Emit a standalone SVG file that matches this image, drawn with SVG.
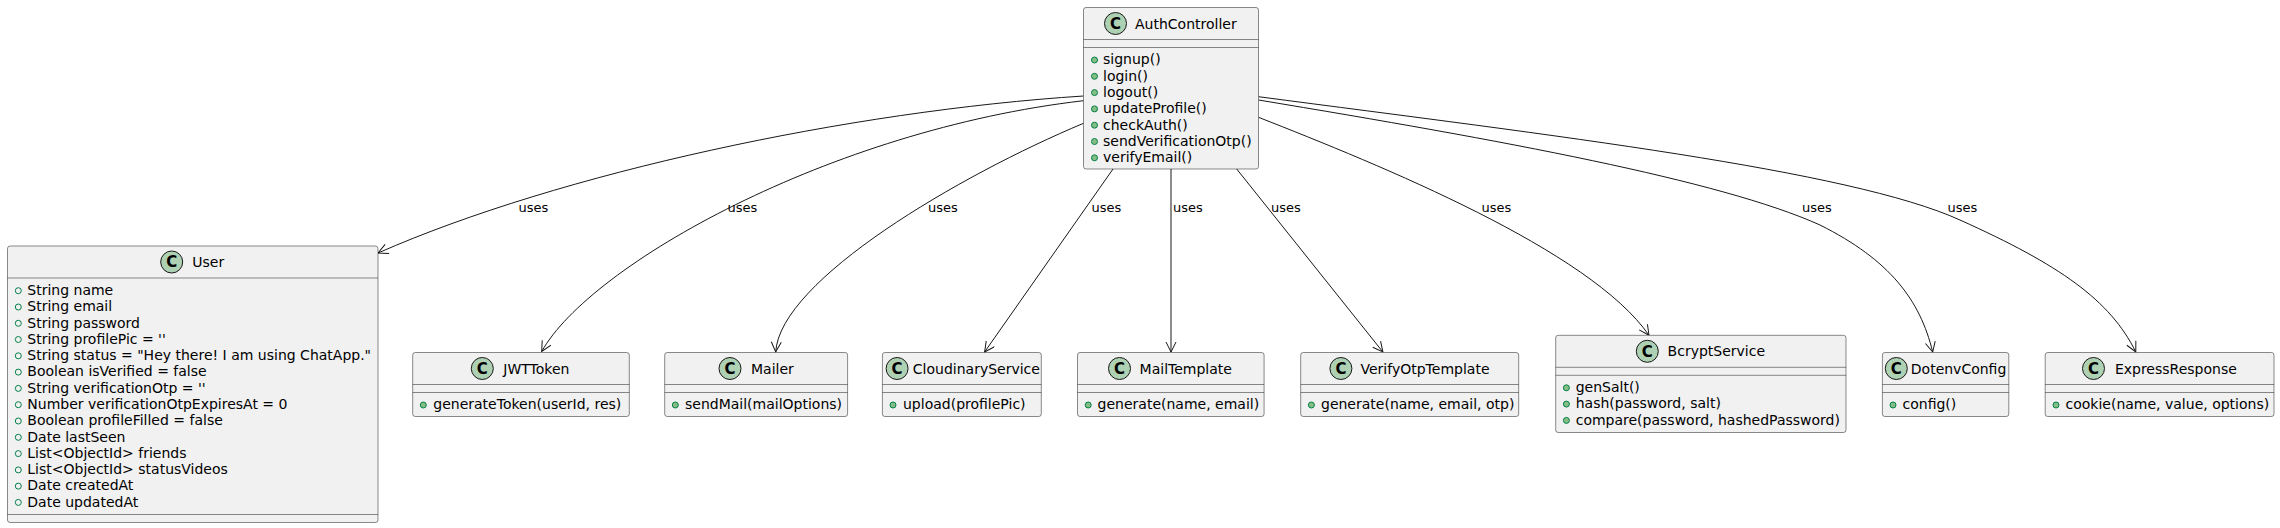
<svg xmlns="http://www.w3.org/2000/svg" width="2280" height="528" viewBox="0 0 2280 528">
<style>
.box{fill:#F1F1F1;stroke:#181818;stroke-width:0.5}
.sep{stroke:#181818;stroke-width:0.5}
.ci{fill:#ADD1B2;stroke:#181818;stroke-width:1}
.cl{font-family:"DejaVu Sans",sans-serif;font-size:15px;font-weight:bold;fill:#000;text-anchor:middle}
.nm{font-family:"DejaVu Sans",sans-serif;font-size:14px;fill:#000}
.mb{font-family:"DejaVu Sans",sans-serif;font-size:14px;fill:#000}
.md{fill:#84BE84;stroke:#038048;stroke-width:1}
.fd{fill:none;stroke:#038048;stroke-width:1}
.ed{fill:none;stroke:#181818;stroke-width:1}
.lb{font-family:"DejaVu Sans",sans-serif;font-size:13px;fill:#000}
</style>
<defs>
<marker id="arr" markerWidth="12" markerHeight="12" refX="10.5" refY="5.5" orient="auto" markerUnits="userSpaceOnUse">
<path d="M0.5,0.5 L10.5,5.5 L0.5,10.5" fill="none" stroke="#181818" stroke-width="1"/>
</marker>
</defs>

<g id="edges">
<path class="ed" marker-end="url(#arr)" d="M1083.5,96 C850,111 560,173 378,253"/>
<path class="ed" marker-end="url(#arr)" d="M1083.5,100.7 C830,130 590,265 541.7,351.5"/>
<path class="ed" marker-end="url(#arr)" d="M1083.5,123.3 C960,175 780,280 775.7,352"/>
<path class="ed" marker-end="url(#arr)" d="M1113,169 L984.6,352"/>
<path class="ed" marker-end="url(#arr)" d="M1171,169 L1171,352"/>
<path class="ed" marker-end="url(#arr)" d="M1236.7,169 L1382.9,352"/>
<path class="ed" marker-end="url(#arr)" d="M1258.5,117.3 C1380,165 1590,250 1649,335.3"/>
<path class="ed" marker-end="url(#arr)" d="M1258.5,100 C1500,140 1720,180 1820,225 C1890,260 1920,300 1932.7,352"/>
<path class="ed" marker-end="url(#arr)" d="M1258.5,96.7 C1550,135 1850,170 1960,220 C2060,265 2110,300 2135.8,352"/>
<text class="lb" x="518.4" y="211.5">uses</text>
<text class="lb" x="727.6" y="211.5">uses</text>
<text class="lb" x="928" y="211.5">uses</text>
<text class="lb" x="1091.5" y="211.5">uses</text>
<text class="lb" x="1173" y="211.5">uses</text>
<text class="lb" x="1271" y="211.5">uses</text>
<text class="lb" x="1481.4" y="211.5">uses</text>
<text class="lb" x="1802" y="211.5">uses</text>
<text class="lb" x="1947.5" y="211.5">uses</text>
</g>

<g id="AuthController">
<rect class="box" x="1083.5" y="7.5" width="175" height="161.5" rx="2.5"/>
<circle class="ci" cx="1115.5" cy="23.5" r="11"/>
<text class="cl" x="1115.5" y="28.8">C</text>
<text class="nm" x="1135" y="28.5">AuthController</text>
<line class="sep" x1="1083.5" y1="39.5" x2="1258.5" y2="39.5"/>
<line class="sep" x1="1083.5" y1="47.5" x2="1258.5" y2="47.5"/>
<circle class="md" cx="1094.5" cy="60" r="3"/><text class="mb" x="1103" y="64.3">signup()</text>
<circle class="md" cx="1094.5" cy="76.3" r="3"/><text class="mb" x="1103" y="80.6">login()</text>
<circle class="md" cx="1094.5" cy="92.6" r="3"/><text class="mb" x="1103" y="96.9">logout()</text>
<circle class="md" cx="1094.5" cy="108.9" r="3"/><text class="mb" x="1103" y="113.2">updateProfile()</text>
<circle class="md" cx="1094.5" cy="125.2" r="3"/><text class="mb" x="1103" y="129.5">checkAuth()</text>
<circle class="md" cx="1094.5" cy="141.5" r="3"/><text class="mb" x="1103" y="145.8">sendVerificationOtp()</text>
<circle class="md" cx="1094.5" cy="157.8" r="3"/><text class="mb" x="1103" y="162.1">verifyEmail()</text>
</g>

<g id="User">
<rect class="box" x="7.5" y="246" width="370.5" height="276.5" rx="2.5"/>
<circle class="ci" cx="171.7" cy="262" r="11"/>
<text class="cl" x="171.7" y="267.3">C</text>
<text class="nm" x="192.3" y="267">User</text>
<line class="sep" x1="7.5" y1="278" x2="378" y2="278"/>
<line class="sep" x1="7.5" y1="514.5" x2="378" y2="514.5"/>
<circle class="fd" cx="18.3" cy="290.7" r="3"/><text class="mb" x="27.3" y="295">String name</text>
<circle class="fd" cx="18.3" cy="307" r="3"/><text class="mb" x="27.3" y="311.3">String email</text>
<circle class="fd" cx="18.3" cy="323.3" r="3"/><text class="mb" x="27.3" y="327.6">String password</text>
<circle class="fd" cx="18.3" cy="339.5" r="3"/><text class="mb" x="27.3" y="343.8">String profilePic = ''</text>
<circle class="fd" cx="18.3" cy="355.8" r="3"/><text class="mb" x="27.3" y="360.1">String status = "Hey there! I am using ChatApp."</text>
<circle class="fd" cx="18.3" cy="372.1" r="3"/><text class="mb" x="27.3" y="376.4">Boolean isVerified = false</text>
<circle class="fd" cx="18.3" cy="388.4" r="3"/><text class="mb" x="27.3" y="392.7">String verificationOtp = ''</text>
<circle class="fd" cx="18.3" cy="404.7" r="3"/><text class="mb" x="27.3" y="409">Number verificationOtpExpiresAt = 0</text>
<circle class="fd" cx="18.3" cy="421" r="3"/><text class="mb" x="27.3" y="425.3">Boolean profileFilled = false</text>
<circle class="fd" cx="18.3" cy="437.3" r="3"/><text class="mb" x="27.3" y="441.6">Date lastSeen</text>
<circle class="fd" cx="18.3" cy="453.6" r="3"/><text class="mb" x="27.3" y="457.9">List&lt;ObjectId&gt; friends</text>
<circle class="fd" cx="18.3" cy="469.9" r="3"/><text class="mb" x="27.3" y="474.2">List&lt;ObjectId&gt; statusVideos</text>
<circle class="fd" cx="18.3" cy="486.1" r="3"/><text class="mb" x="27.3" y="490.4">Date createdAt</text>
<circle class="fd" cx="18.3" cy="502.4" r="3"/><text class="mb" x="27.3" y="506.7">Date updatedAt</text>
</g>

<g id="JWTToken">
<rect class="box" x="412.7" y="352.5" width="216.6" height="64" rx="2.5"/>
<circle class="ci" cx="482.3" cy="368.5" r="11"/>
<text class="cl" x="482.3" y="373.8">C</text>
<text class="nm" x="503.3" y="373.5">JWTToken</text>
<line class="sep" x1="412.7" y1="384.5" x2="629.3" y2="384.5"/>
<line class="sep" x1="412.7" y1="392.5" x2="629.3" y2="392.5"/>
<circle class="md" cx="423.3" cy="405" r="3"/><text class="mb" x="433.3" y="409.3">generateToken(userId, res)</text>
</g>

<g id="Mailer">
<rect class="box" x="664.7" y="352.5" width="182.9" height="64" rx="2.5"/>
<circle class="ci" cx="730" cy="368.5" r="11"/>
<text class="cl" x="730" y="373.8">C</text>
<text class="nm" x="751" y="373.5">Mailer</text>
<line class="sep" x1="664.7" y1="384.5" x2="847.6" y2="384.5"/>
<line class="sep" x1="664.7" y1="392.5" x2="847.6" y2="392.5"/>
<circle class="md" cx="675.3" cy="405" r="3"/><text class="mb" x="685" y="409.3">sendMail(mailOptions)</text>
</g>

<g id="CloudinaryService">
<rect class="box" x="882.4" y="352.5" width="158.9" height="64" rx="2.5"/>
<circle class="ci" cx="897.1" cy="368.5" r="11"/>
<text class="cl" x="897.1" y="373.8">C</text>
<text class="nm" x="912.8" y="373.5">CloudinaryService</text>
<line class="sep" x1="882.4" y1="384.5" x2="1041.3" y2="384.5"/>
<line class="sep" x1="882.4" y1="392.5" x2="1041.3" y2="392.5"/>
<circle class="md" cx="893" cy="405" r="3"/><text class="mb" x="903" y="409.3">upload(profilePic)</text>
</g>

<g id="MailTemplate">
<rect class="box" x="1077.5" y="352.5" width="186.6" height="64" rx="2.5"/>
<circle class="ci" cx="1119.5" cy="368.5" r="11"/>
<text class="cl" x="1119.5" y="373.8">C</text>
<text class="nm" x="1139.6" y="373.5">MailTemplate</text>
<line class="sep" x1="1077.5" y1="384.5" x2="1264.1" y2="384.5"/>
<line class="sep" x1="1077.5" y1="392.5" x2="1264.1" y2="392.5"/>
<circle class="md" cx="1088.2" cy="405" r="3"/><text class="mb" x="1097.6" y="409.3">generate(name, email)</text>
</g>

<g id="VerifyOtpTemplate">
<rect class="box" x="1300.7" y="352.5" width="218" height="64" rx="2.5"/>
<circle class="ci" cx="1340.9" cy="368.5" r="11"/>
<text class="cl" x="1340.9" y="373.8">C</text>
<text class="nm" x="1360.5" y="373.5">VerifyOtpTemplate</text>
<line class="sep" x1="1300.7" y1="384.5" x2="1518.7" y2="384.5"/>
<line class="sep" x1="1300.7" y1="392.5" x2="1518.7" y2="392.5"/>
<circle class="md" cx="1311.4" cy="405" r="3"/><text class="mb" x="1321" y="409.3">generate(name, email, otp)</text>
</g>

<g id="BcryptService">
<rect class="box" x="1555.7" y="335.3" width="290.3" height="97.2" rx="2.5"/>
<circle class="ci" cx="1647.3" cy="351.3" r="11"/>
<text class="cl" x="1647.3" y="356.6">C</text>
<text class="nm" x="1667.6" y="356.3">BcryptService</text>
<line class="sep" x1="1555.7" y1="367.3" x2="1846" y2="367.3"/>
<line class="sep" x1="1555.7" y1="375.3" x2="1846" y2="375.3"/>
<circle class="md" cx="1566.4" cy="387.8" r="3"/><text class="mb" x="1575.7" y="392.1">genSalt()</text>
<circle class="md" cx="1566.4" cy="404.1" r="3"/><text class="mb" x="1575.7" y="408.4">hash(password, salt)</text>
<circle class="md" cx="1566.4" cy="420.4" r="3"/><text class="mb" x="1575.7" y="424.7">compare(password, hashedPassword)</text>
</g>

<g id="DotenvConfig">
<rect class="box" x="1882.4" y="352.5" width="126.4" height="64" rx="2.5"/>
<circle class="ci" cx="1896.3" cy="368.5" r="11"/>
<text class="cl" x="1896.3" y="373.8">C</text>
<text class="nm" x="1910.8" y="373.5">DotenvConfig</text>
<line class="sep" x1="1882.4" y1="384.5" x2="2008.8" y2="384.5"/>
<line class="sep" x1="1882.4" y1="392.5" x2="2008.8" y2="392.5"/>
<circle class="md" cx="1893" cy="405" r="3"/><text class="mb" x="1902.5" y="409.3">config()</text>
</g>

<g id="ExpressResponse">
<rect class="box" x="2045.2" y="352.5" width="228.8" height="64" rx="2.5"/>
<circle class="ci" cx="2093.5" cy="368.5" r="11"/>
<text class="cl" x="2093.5" y="373.8">C</text>
<text class="nm" x="2114.9" y="373.5">ExpressResponse</text>
<line class="sep" x1="2045.2" y1="384.5" x2="2274" y2="384.5"/>
<line class="sep" x1="2045.2" y1="392.5" x2="2274" y2="392.5"/>
<circle class="md" cx="2056" cy="405" r="3"/><text class="mb" x="2065.5" y="409.3">cookie(name, value, options)</text>
</g>
</svg>
